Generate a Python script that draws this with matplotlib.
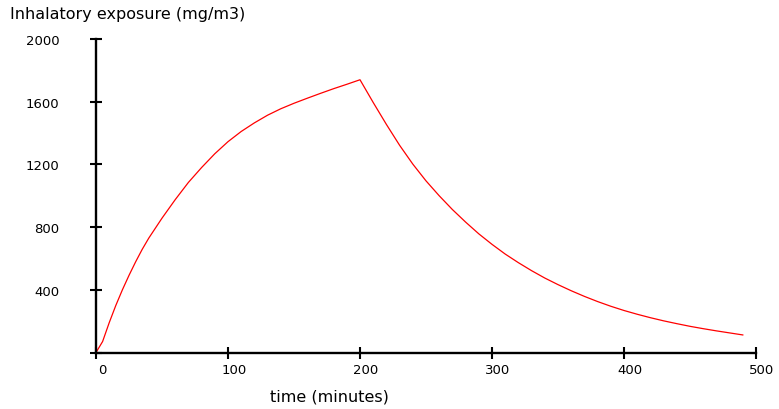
import matplotlib
matplotlib.use("Agg")
import matplotlib.pyplot as plt
import matplotlib.transforms as mtrans

# Data
time_min = [0, 5, 10, 15, 20, 25, 30, 35, 40, 50, 60, 70, 80, 90, 100, 110,
            120, 130, 140, 150, 160, 170, 180, 190, 200, 210, 220, 230, 240,
            250, 260, 270, 280, 290, 300, 310, 320, 330, 340, 350, 360, 370,
            380, 390, 400, 410, 420, 430, 440, 450, 460, 470, 480, 490]
exposure = [0, 70, 190, 300, 400, 492, 578, 658, 730, 857, 975, 1085, 1180,
            1268, 1345, 1410, 1465, 1514, 1555, 1590, 1622, 1653, 1683, 1711,
            1740, 1595, 1455, 1322, 1202, 1095, 1000, 912, 832, 757, 690, 628,
            573, 522, 475, 433, 394, 358, 325, 295, 268, 244, 222, 202, 184,
            167, 152, 138, 125, 112]

x_ticks = [0, 100, 200, 300, 400, 500]
x_tick_labels = ["0", "100", "200", "300", "400", "500"]
y_ticks = [0, 400, 800, 1200, 1600, 2000]
y_tick_labels = ["", "400", "800", "1200", "1600", "2000"]

y_title = "Inhalatory exposure (mg/m3)"
x_title = "time (minutes)"

W, H = 779, 410
fig = plt.figure(figsize=(W / 100, H / 100), dpi=100)
ax = fig.add_axes([96 / W, (H - 353.5) / H, (756 - 96) / W, (353.5 - 40) / H])

ax.plot(time_min, exposure, color="#ff0000", linewidth=0.9, clip_on=False)

ax.set_xlim(0, 500)
ax.set_ylim(0, 2000)
for s in ["top", "right"]:
    ax.spines[s].set_visible(False)
for s in ["left", "bottom"]:
    ax.spines[s].set_linewidth(1.7)
    ax.spines[s].set_color("black")

ax.set_xticks(x_ticks)
ax.set_xticklabels(x_tick_labels)
ax.set_yticks(y_ticks)
ax.set_yticklabels(y_tick_labels)

ax.tick_params(axis="both", direction="inout", length=8.6, width=1.5,
               labelsize=9.5, colors="black")
ax.tick_params(axis="y", pad=22)
ax.tick_params(axis="x", pad=3)

# shift x tick labels slightly to the right, as in the reference
offset = mtrans.ScaledTranslation(6 / 100, 0, fig.dpi_scale_trans)
for lbl in ax.get_xticklabels():
    lbl.set_transform(lbl.get_transform() + offset)

fig.text(10 / W, 1 - 15 / H, y_title, ha="left", va="center", fontsize=11.5)
fig.text(329 / W, 1 - 397 / H, x_title, ha="center", va="center", fontsize=11.5)

fig.savefig("out.png", dpi=100)
